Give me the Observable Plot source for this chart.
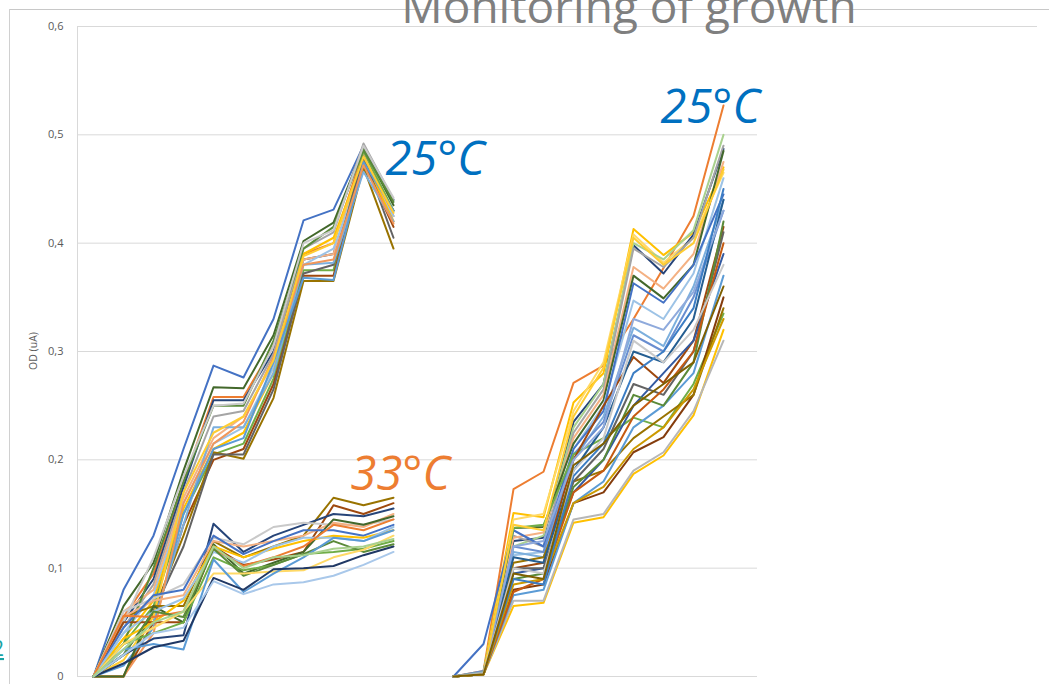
<!DOCTYPE html>
<html>
<head>
<meta charset="utf-8">
<script src="https://cdn.jsdelivr.net/npm/d3@7"></script>
<script src="https://cdn.jsdelivr.net/npm/@observablehq/plot@0.6"></script>
<style>
  html, body { margin: 0; padding: 0; background: #fff; overflow: hidden; }
  #wrap { position: relative; width: 1049px; height: 684px; }
  #wrap svg { position: absolute; left: 0; top: 0; }
</style>
</head>
<body>
<div id="wrap"></div>
<script>
// ---- categories (time points on a category axis; index 11 is an empty gap) ----
const leftTimes  = [0, 1, 2, 3, 4, 5, 6, 7, 8, 9, 10];
const rightTimes = [12, 13, 14, 15, 16, 17, 18, 19, 20, 21];

// ---- y ticks ----
const yTicks = [0, 0.1, 0.2, 0.3, 0.4, 0.5, 0.6];
const yLabel = "OD (uA)";
const titleText = "Monitoring of growth";
const labels = ["25°C", "33°C", "25°C"];

// ---- left block, 25 °C cluster (OD per time point) ----
const left25 = [
  [0, 0.080, 0.130, 0.210, 0.287, 0.276, 0.330, 0.421, 0.431, 0.490, 0.440],
  [0, 0.065, 0.105, 0.190, 0.267, 0.266, 0.315, 0.402, 0.419, 0.488, 0.435],
  [0, 0.055, 0.095, 0.180, 0.258, 0.258, 0.305, 0.390, 0.400, 0.485, 0.425],
  [0, 0.050, 0.090, 0.175, 0.255, 0.255, 0.300, 0.385, 0.390, 0.480, 0.430],
  [0, 0.045, 0.085, 0.170, 0.240, 0.245, 0.298, 0.395, 0.410, 0.492, 0.440],
  [0, 0.060, 0.080, 0.165, 0.220, 0.240, 0.290, 0.385, 0.390, 0.483, 0.420],
  [0, 0.040, 0.075, 0.160, 0.215, 0.230, 0.285, 0.380, 0.395, 0.470, 0.425],
  [0, 0.035, 0.070, 0.155, 0.210, 0.225, 0.280, 0.390, 0.405, 0.478, 0.420],
  [0, 0.030, 0.065, 0.150, 0.205, 0.215, 0.275, 0.375, 0.375, 0.485, 0.430],
  [0, 0.000, 0.050, 0.140, 0.200, 0.210, 0.270, 0.370, 0.370, 0.475, 0.415],
  [0, 0.000, 0.060, 0.130, 0.207, 0.201, 0.257, 0.365, 0.365, 0.470, 0.395],
  [0, 0.020, 0.060, 0.120, 0.205, 0.205, 0.265, 0.372, 0.380, 0.480, 0.405],
  [0, 0.025, 0.050, 0.140, 0.230, 0.230, 0.280, 0.380, 0.382, 0.466, 0.420],
  [0, 0.010, 0.045, 0.150, 0.210, 0.220, 0.290, 0.368, 0.366, 0.475, 0.430],
  [0, 0.000, 0.040, 0.160, 0.215, 0.235, 0.295, 0.380, 0.385, 0.472, 0.418],
  [0, 0.015, 0.055, 0.170, 0.225, 0.240, 0.292, 0.388, 0.400, 0.480, 0.428],
  [0, 0.030, 0.100, 0.180, 0.250, 0.250, 0.310, 0.395, 0.415, 0.486, 0.438],
  [0, 0.050, 0.110, 0.185, 0.250, 0.252, 0.305, 0.400, 0.412, 0.490, 0.442]
];
const left25Colors = ["#4472C4","#43682B","#ED7D31","#264478","#A5A5A5","#F4B183","#9DC3E6","#FFC000","#70AD47",
  "#9E480E","#997300","#636363","#7CAFDD","#5B9BD5","#F1975A","#FFCD33","#5A8A39","#C9C9C9"];

// ---- left block, 33 °C cluster ----
const left33 = [
  [0, 0.055, 0.065, 0.065, 0.125, 0.110, 0.120, 0.130, 0.165, 0.158, 0.165],
  [0, 0.050, 0.050, 0.050, 0.120, 0.103, 0.108, 0.115, 0.158, 0.150, 0.160],
  [0, 0.020, 0.035, 0.038, 0.141, 0.115, 0.130, 0.140, 0.150, 0.148, 0.155],
  [0, 0.060, 0.072, 0.085, 0.128, 0.122, 0.138, 0.142, 0.140, 0.140, 0.145],
  [0, 0.055, 0.070, 0.075, 0.125, 0.120, 0.125, 0.130, 0.142, 0.138, 0.150],
  [0, 0.000, 0.065, 0.050, 0.122, 0.095, 0.105, 0.115, 0.145, 0.140, 0.148],
  [0, 0.045, 0.075, 0.080, 0.130, 0.113, 0.125, 0.135, 0.135, 0.130, 0.140],
  [0, 0.035, 0.050, 0.070, 0.120, 0.110, 0.118, 0.125, 0.130, 0.128, 0.135],
  [0, 0.040, 0.060, 0.072, 0.115, 0.105, 0.120, 0.128, 0.128, 0.125, 0.138],
  [0, 0.056, 0.055, 0.060, 0.118, 0.102, 0.110, 0.120, 0.140, 0.135, 0.145],
  [0, 0.030, 0.040, 0.050, 0.110, 0.098, 0.103, 0.113, 0.115, 0.118, 0.125],
  [0, 0.020, 0.060, 0.055, 0.118, 0.093, 0.103, 0.113, 0.125, 0.115, 0.122],
  [0, 0.030, 0.045, 0.060, 0.095, 0.095, 0.097, 0.098, 0.110, 0.117, 0.130],
  [0, 0.025, 0.030, 0.025, 0.108, 0.078, 0.095, 0.110, 0.128, 0.125, 0.135],
  [0, 0.012, 0.027, 0.033, 0.091, 0.080, 0.099, 0.100, 0.102, 0.112, 0.120],
  [0, 0.020, 0.040, 0.045, 0.088, 0.076, 0.085, 0.087, 0.093, 0.103, 0.115],
  [0, 0.025, 0.050, 0.060, 0.120, 0.100, 0.110, 0.112, 0.118, 0.120, 0.127]
];
const left33Colors = ["#997300","#9E480E","#264478","#C9C9C9","#F4B183","#43682B","#4472C4","#FFC000","#9DC3E6",
  "#ED7D31","#70AD47","#5A8A39","#FFD966","#5B9BD5","#203864","#A9C8EA","#A9D18E"];

// ---- right block, 25 °C ----
const right25 = [
  [0, 0.005, 0.173, 0.189, 0.271, 0.287, 0.330, 0.377, 0.425, 0.527],
  [0, 0.004, 0.151, 0.147, 0.253, 0.280, 0.413, 0.389, 0.410, 0.470],
  [0, 0.003, 0.145, 0.150, 0.245, 0.290, 0.408, 0.382, 0.405, 0.465],
  [0, 0.002, 0.125, 0.128, 0.235, 0.270, 0.398, 0.372, 0.408, 0.487],
  [0, 0.004, 0.120, 0.130, 0.230, 0.270, 0.400, 0.385, 0.412, 0.500],
  [0, 0.003, 0.130, 0.120, 0.225, 0.265, 0.395, 0.378, 0.405, 0.490],
  [0, 0.004, 0.128, 0.133, 0.220, 0.260, 0.378, 0.358, 0.390, 0.475],
  [0, 0.002, 0.137, 0.138, 0.215, 0.255, 0.370, 0.349, 0.380, 0.485],
  [0, 0.003, 0.112, 0.115, 0.210, 0.250, 0.347, 0.330, 0.372, 0.460],
  [0, 0.030, 0.135, 0.120, 0.210, 0.245, 0.363, 0.345, 0.380, 0.445],
  [0, 0.003, 0.115, 0.110, 0.200, 0.240, 0.322, 0.305, 0.360, 0.440],
  [0, 0.005, 0.120, 0.115, 0.205, 0.235, 0.315, 0.300, 0.350, 0.430],
  [0, 0.004, 0.137, 0.140, 0.205, 0.220, 0.239, 0.230, 0.270, 0.335],
  [0, 0.003, 0.100, 0.105, 0.200, 0.250, 0.295, 0.271, 0.310, 0.415],
  [0, 0.002, 0.080, 0.085, 0.160, 0.170, 0.207, 0.221, 0.260, 0.350],
  [0, 0.002, 0.105, 0.110, 0.180, 0.190, 0.220, 0.240, 0.260, 0.340],
  [0, 0.002, 0.065, 0.068, 0.142, 0.147, 0.187, 0.204, 0.241, 0.320],
  [0, 0.002, 0.070, 0.070, 0.145, 0.150, 0.190, 0.207, 0.245, 0.310],
  [0, 0.003, 0.095, 0.100, 0.170, 0.200, 0.250, 0.280, 0.310, 0.390],
  [0, 0.003, 0.110, 0.105, 0.190, 0.230, 0.300, 0.290, 0.330, 0.440],
  [0, 0.003, 0.100, 0.100, 0.180, 0.210, 0.270, 0.260, 0.300, 0.410],
  [0, 0.002, 0.075, 0.080, 0.160, 0.180, 0.230, 0.250, 0.280, 0.370],
  [0, 0.002, 0.090, 0.095, 0.175, 0.200, 0.260, 0.250, 0.290, 0.420],
  [0, 0.002, 0.078, 0.090, 0.170, 0.190, 0.240, 0.265, 0.300, 0.400],
  [0, 0.002, 0.085, 0.090, 0.160, 0.175, 0.210, 0.230, 0.265, 0.330],
  [0, 0.004, 0.120, 0.125, 0.200, 0.230, 0.330, 0.320, 0.355, 0.430],
  [0, 0.003, 0.140, 0.135, 0.240, 0.285, 0.405, 0.380, 0.400, 0.468],
  [0, 0.003, 0.090, 0.085, 0.185, 0.215, 0.280, 0.300, 0.340, 0.450],
  [0, 0.003, 0.100, 0.095, 0.190, 0.220, 0.310, 0.290, 0.320, 0.380],
  [0, 0.002, 0.095, 0.090, 0.195, 0.215, 0.250, 0.270, 0.290, 0.360]
];
const right25Colors = ["#ED7D31","#FFC000","#FFD966","#264478","#A9D18E","#A5A5A5","#F4B183","#43682B","#9DC3E6",
  "#4472C4","#7CAFDD","#698ED0","#70AD47","#9E480E","#843C0C","#997300","#FFC000","#B7B7B7","#335AA1","#255E91",
  "#636363","#5B9BD5","#5A8A39","#C55A11","#CC9A00","#8FAADC","#FFCD33","#3C7DC4","#C9C9C9","#7F6000"];

// ---- build a long table for Plot ----
function toRows(group, times, colors, prefix) {
  return group.flatMap((vals, i) =>
    vals.map((v, j) => ({ id: prefix + i, t: times[j], v, color: colors[i % colors.length] })));
}
const rows = [
  ...toRows(left25, leftTimes, left25Colors, "L25-"),
  ...toRows(left33, leftTimes, left33Colors, "L33-"),
  ...toRows(right25, rightTimes, right25Colors, "R25-")
];

const W = 1049, H = 684;
const fmt = d => d3.format(".1f")(d).replace(".", ",").replace(/^0,0$/, "0");
const font = "'Open Sans', 'Noto Sans', sans-serif";

const chart = Plot.plot({
  width: W, height: H,
  marginLeft: 77, marginRight: 292, marginTop: 26, marginBottom: 8,
  style: { fontFamily: font, background: "transparent", overflow: "visible" },
  x: { type: "linear", domain: [-0.5333, 22.1333], axis: null },
  y: { domain: [0, 0.6], axis: null },
  marks: [
    Plot.ruleY(yTicks.slice(0, -1), { stroke: "#d9d9d9", strokeWidth: 1 }),
    Plot.axisY(yTicks, { tickSize: 0, tickPadding: 14, tickFormat: fmt, fontSize: 11, fill: "#595959", label: null }),
    Plot.line(rows, { x: "t", y: "v", z: "id", stroke: "color", strokeWidth: 2, strokeLinejoin: "round" }),
    Plot.text([labels[0]], { x: 9.73, y: 0.4772, text: d => d, textAnchor: "start", lineAnchor: "middle",
      fontSize: 47, fontStyle: "italic", fill: "#0070C0" }),
    Plot.text([labels[1]], { x: 8.57, y: 0.1865, text: d => d, textAnchor: "start", lineAnchor: "middle",
      fontSize: 47, fontStyle: "italic", fill: "#ED7D31" }),
    Plot.text([labels[2]], { x: 18.9, y: 0.5252, text: d => d, textAnchor: "start", lineAnchor: "middle",
      fontSize: 47, fontStyle: "italic", fill: "#0070C0" })
  ]
});

const svg = d3.select(chart);
// decorative frame lines (behind everything)
const deco = svg.insert("g", ":first-child");
deco.append("line").attr("x1", 9).attr("x2", W).attr("y1", 9.5).attr("y2", 9.5).attr("stroke", "#c8c8c8");
deco.append("line").attr("x1", 9.5).attr("x2", 9.5).attr("y1", 9).attr("y2", H).attr("stroke", "#d0d0d0");
deco.append("line").attr("x1", 77).attr("x2", 1037).attr("y1", 26.5).attr("y2", 26.5).attr("stroke", "#d9d9d9");
deco.append("line").attr("x1", 77.5).attr("x2", 77.5).attr("y1", 26).attr("y2", 676).attr("stroke", "#d9d9d9");
// y-axis title
svg.append("text").attr("transform", "translate(37,351) rotate(-90)").attr("text-anchor", "middle")
  .attr("font-size", 10.5).attr("fill", "#595959").attr("font-family", font).text(yLabel);
// chart title (partly cut off at the top, as in the source slide)
svg.append("text").attr("x", 629).attr("y", 23).attr("text-anchor", "middle")
  .attr("font-size", 46).attr("fill", "#7f7f7f").attr("font-family", font).text(titleText);
// slide number fragment at left edge
svg.append("text").attr("x", -2).attr("y", 656).attr("font-size", 21).attr("fill", "#18A3A3")
  .attr("font-family", font).attr("text-decoration", "underline").text("2");

document.getElementById("wrap").appendChild(chart);
</script>
</body>
</html>
